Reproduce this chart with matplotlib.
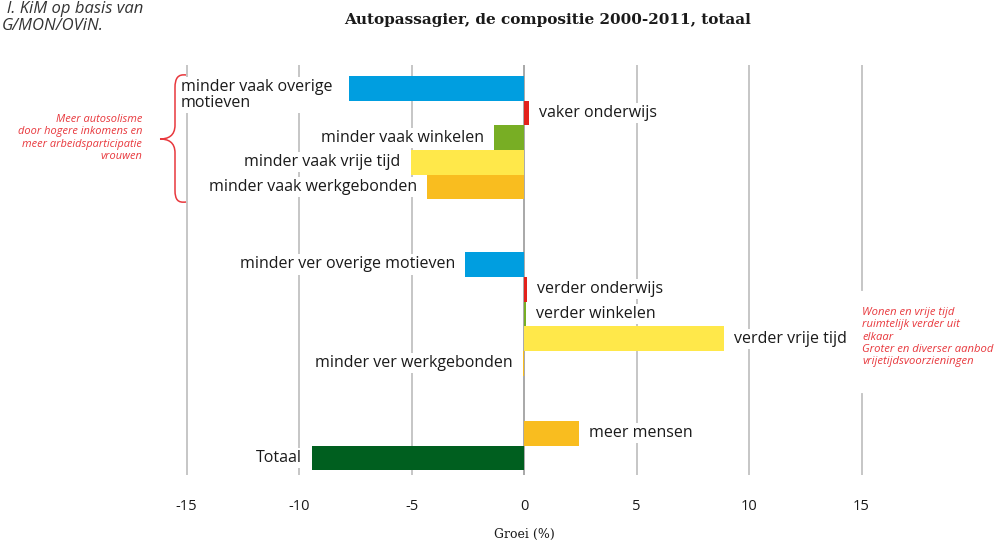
import matplotlib.pyplot as plt
from matplotlib.path import Path
from matplotlib.patches import PathPatch
from matplotlib.lines import Line2D
from matplotlib.transforms import Affine2D

# data
labels = ['minder vaak overige\nmotieven', 'vaker onderwijs', 'minder vaak winkelen',
          'minder vaak vrije tijd', 'minder vaak werkgebonden',
          'minder ver overige motieven', 'verder onderwijs', 'verder winkelen',
          'verder vrije tijd', 'minder ver werkgebonden',
          'meer mensen', 'Totaal']
values = [-7.8, 0.22, -1.33, -5.03, -4.32,
          -2.62, 0.13, 0.1, 8.89, -0.05,
          2.44, -9.42]
colors = ['#009ee0', '#e3211b', '#78ae24', '#ffe84a', '#f9bd1f',
          '#009ee0', '#e3211b', '#78ae24', '#ffe84a', '#f9bd1f',
          '#f9bd1f', '#005f1f']
rows = [0, 1, 2, 3, 4, 7.13, 8.13, 9.13, 10.13, 11.13, 13.96, 14.96]
ticks = [-15, -10, -5, 0, 5, 10, 15]
tick_labels = ['-15', '-10', '-5', '0', '5', '10', '15']

W, H = 1007, 542
fig = plt.figure(figsize=(W / 100, H / 100), dpi=100)
ax = fig.add_axes([164 / W, 1 - 475 / H, 720 / W, 410 / H])
ax.set_xlim(-16, 16)
ax.set_ylim(15.65, -0.94)
for s in ax.spines.values():
    s.set_visible(False)

for t in ticks:
    ax.axvline(t, color='#c6c6c6' if t else '#a8a8a8', lw=1.4, zorder=0)

ax.barh(rows, values, height=1.0, color=colors, zorder=2)

lab_font = dict(family='Open Sans', fontsize=11.5, color='#1a1a1a', zorder=3,
                bbox=dict(facecolor='white', edgecolor='none', pad=1.5))
for i, (lab, v, r) in enumerate(zip(labels, values, rows)):
    if i == 0:
        ax.text(-15.25, r + 0.28, lab, ha='left', va='center', linespacing=0.95, **lab_font)
    elif v < 0:
        ax.text(v - 0.45, r, lab, ha='right', va='center', **lab_font)
    else:
        ax.text(v + 0.45, r, lab, ha='left', va='center', **lab_font)

ax.set_xticks(ticks)
ax.set_xticklabels(tick_labels, family='Open Sans', fontsize=10.5, color='#1a1a1a')
ax.tick_params(axis='x', length=0, pad=17)
ax.set_yticks([])

fig.text(524 / W, 1 - 534 / H, 'Groei (%)', ha='center', va='center',
         family='DejaVu Serif', fontsize=9, color='#1a1a1a')
fig.text(548 / W, 1 - 20 / H, 'Autopassagier, de compositie 2000-2011, totaal',
         ha='center', va='center', family='DejaVu Serif', fontweight='bold',
         fontsize=11, color='#1a1a1a')

# source note top-left (only the visible part)
fig.text(143 / W, 1 - 1 / H, 'l. KiM op basis van', ha='right', va='top',
         family='Open Sans', style='italic', fontsize=12, color='#333333')
fig.text(104 / W, 1 - 26 / H, 'G/MON/OViN.', ha='right', va='center',
         family='Open Sans', style='italic', fontsize=12, color='#333333')

red = '#e8383d'
fig.text(142 / W, 1 - 138 / H,
         'Meer autosolisme\ndoor hogere inkomens en\nmeer arbeidsparticipatie\nvrouwen',
         ha='right', va='center', family='Open Sans', style='italic', fontsize=7.9,
         color=red, linespacing=1.2)

# gap in the 15 gridline behind the right note
px = Affine2D().scale(1 / W, -1 / H).translate(0, 1) + fig.transFigure
fig.add_artist(Line2D([861, 861], [293, 391], transform=px, color='white', lw=3, zorder=4))
fig.text(862 / W, 1 - 337 / H,
         'Wonen en vrije tijd\nruimtelijk verder uit\nelkaar\nGroter en diverser aanbod\nvrijetijdsvoorzieningen',
         ha='left', va='center', family='Open Sans', style='italic', fontsize=8.1,
         color=red, linespacing=1.15, zorder=5)

# curly brace, in pixel coords
verts = [(186, 75), (178, 74), (175, 78), (175, 88),
         (175, 125), (175, 136), (168, 139), (160, 139),
         (168, 139), (175, 142), (175, 153),
         (175, 190), (175, 200), (178, 203), (186, 202)]
codes = [Path.MOVETO, Path.CURVE4, Path.CURVE4, Path.CURVE4,
         Path.LINETO, Path.CURVE4, Path.CURVE4, Path.CURVE4,
         Path.CURVE4, Path.CURVE4, Path.CURVE4,
         Path.LINETO, Path.CURVE4, Path.CURVE4, Path.CURVE4]
fig.patches.append(PathPatch(Path(verts, codes), transform=px, fill=False,
                             edgecolor=red, lw=1.1))

fig.savefig('out.png', dpi=100)
